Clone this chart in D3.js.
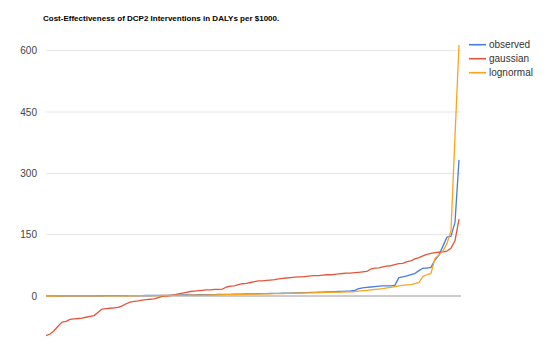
<!DOCTYPE html>
<html>
<head>
<meta charset="utf-8">
<script src="https://cdn.jsdelivr.net/npm/d3@7"></script>
<style>
  body { margin: 0; background: #fff; }
  text { font-family: "Liberation Sans", Arial, sans-serif; }
</style>
</head>
<body>
<div id="chart"></div>
<script>
const title = "Cost-Effectiveness of DCP2 Interventions in DALYs per $1000.";
const seriesNames = ["observed", "gaussian", "lognormal"];
const seriesColors = ["#4a7ddc", "#e5553c", "#fba41c"];
const yTicks = [0, 150, 300, 450, 600];

// interventions sorted by cost-effectiveness (index 0..103)
const observed = [
  0.2, 0.2, 0.2, 0.3, 0.3, 0.3, 0.3, 0.4, 0.4, 0.4,
  0.5, 0.5, 0.5, 0.6, 0.6, 0.7, 0.7, 0.8, 0.8, 0.9,
  0.9, 1.0, 1.0, 1.1, 1.1, 1.2, 1.2, 1.3, 1.4, 1.4,
  1.5, 2.0, 2.1, 2.3, 2.4, 2.6, 2.7, 2.9, 3.0, 3.2,
  3.3, 3.5, 3.6, 3.8, 3.9, 4.0, 4.2, 4.4, 4.6, 4.8,
  5.0, 5.2, 5.4, 5.6, 5.8, 6.0, 6.2, 6.4, 6.6, 6.8,
  7.0, 7.2, 7.5, 7.8, 8.2, 8.5, 8.8, 9.1, 9.4, 9.7,
  10, 10.3, 10.6, 11, 11.4, 11.8, 12.2, 14, 18, 20,
  21, 22, 23, 24, 25, 25, 25, 26, 45, 47,
  49, 52, 55, 62, 68, 68, 70, 88, 100, 122,
  144, 146, 180, 333
];

const gaussian = [
  -97, -93, -85, -74, -64, -62, -57, -56, -55, -54,
  -52, -50, -48, -40, -32, -31, -30, -29, -28, -24,
  -19, -15, -13, -12, -10, -9, -8, -7, -4, -1,
  0, 1, 3, 5, 7, 9, 11, 12, 13, 14,
  15, 15, 16, 16, 17, 22, 24, 25, 28, 30,
  31, 33, 35, 37, 37, 38, 39, 40, 42, 43,
  44, 45, 46, 47, 47, 48, 49, 50, 50, 51,
  52, 52, 53, 54, 55, 56, 56, 57, 58, 59,
  60, 66, 68, 69, 71, 73, 74, 77, 79, 80,
  84, 86, 91, 94, 98, 102, 104, 106, 107, 108,
  110, 117, 135, 188
];

const lognormal = [
  0.0, 0.0, 0.0, 0.0, 0.1, 0.1, 0.1, 0.1, 0.2, 0.2,
  0.2, 0.2, 0.3, 0.3, 0.3, 0.3, 0.4, 0.4, 0.4, 0.5,
  0.5, 0.6, 0.6, 0.7, 0.8, 0.8, 0.9, 1.0, 1.1, 1.2,
  1.2, 1.3, 1.4, 1.5, 1.6, 1.7, 1.8, 1.9, 2.0, 2.1,
  2.2, 2.4, 2.6, 2.8, 3.0, 3.2, 3.4, 3.6, 3.8, 4.0,
  4.2, 4.4, 4.6, 4.8, 5.0, 5.2, 5.4, 5.6, 5.8, 6.0,
  6.3, 6.6, 6.8, 7.0, 7.3, 7.5, 7.8, 8.0, 8.3, 8.5,
  8.8, 9.0, 9.3, 9.5, 9.8, 10, 10.3, 11, 12, 13,
  14, 15, 16, 17, 18, 20, 21, 23, 25, 26,
  27, 28, 30, 33, 48, 52, 55, 92, 100, 110,
  128, 160, 390, 614
];

const width = 550, height = 351;
const svg = d3.select("#chart").append("svg")
  .attr("width", width)
  .attr("height", height);

const x = d3.scaleLinear().domain([0, observed.length - 1]).range([46, 459]);
const y = d3.scaleLinear().domain([0, 600]).range([296, 50.7]);

svg.append("text")
  .attr("x", 43)
  .attr("y", 21)
  .attr("font-size", 8)
  .attr("font-weight", "bold")
  .attr("fill", "#000")
  .text(title);

// gridlines and tick labels
svg.append("g")
  .selectAll("line")
  .data(yTicks.filter(d => d !== 0))
  .join("line")
  .attr("x1", 46).attr("x2", 461)
  .attr("y1", d => y(d)).attr("y2", d => y(d))
  .attr("stroke", "#e6e6e6")
  .attr("stroke-width", 1);

svg.append("g")
  .selectAll("text")
  .data(yTicks)
  .join("text")
  .attr("x", 37)
  .attr("y", d => y(d) + 3.5)
  .attr("text-anchor", "end")
  .attr("font-size", 10)
  .attr("fill", "#444")
  .text(d => d);

// baseline
svg.append("line")
  .attr("x1", 46).attr("x2", 461)
  .attr("y1", y(0)).attr("y2", y(0))
  .attr("stroke", "#999")
  .attr("stroke-width", 1.2);

const line = d3.line()
  .x((d, i) => x(i))
  .y(d => y(d));

const data = [observed, gaussian, lognormal];
svg.append("g")
  .selectAll("path")
  .data(data)
  .join("path")
  .attr("d", line)
  .attr("fill", "none")
  .attr("stroke", (d, i) => seriesColors[i])
  .attr("stroke-width", 1.3)
  .attr("stroke-linejoin", "round");

// legend
const legend = svg.append("g")
  .selectAll("g")
  .data(seriesNames)
  .join("g")
  .attr("transform", (d, i) => `translate(469,${44.7 + i * 14})`);

legend.append("line")
  .attr("x1", 0).attr("x2", 17)
  .attr("stroke", (d, i) => seriesColors[i])
  .attr("stroke-width", 1.6);

legend.append("text")
  .attr("x", 20)
  .attr("y", 3.5)
  .attr("font-size", 10)
  .attr("fill", "#333")
  .text(d => d);
</script>
</body>
</html>
